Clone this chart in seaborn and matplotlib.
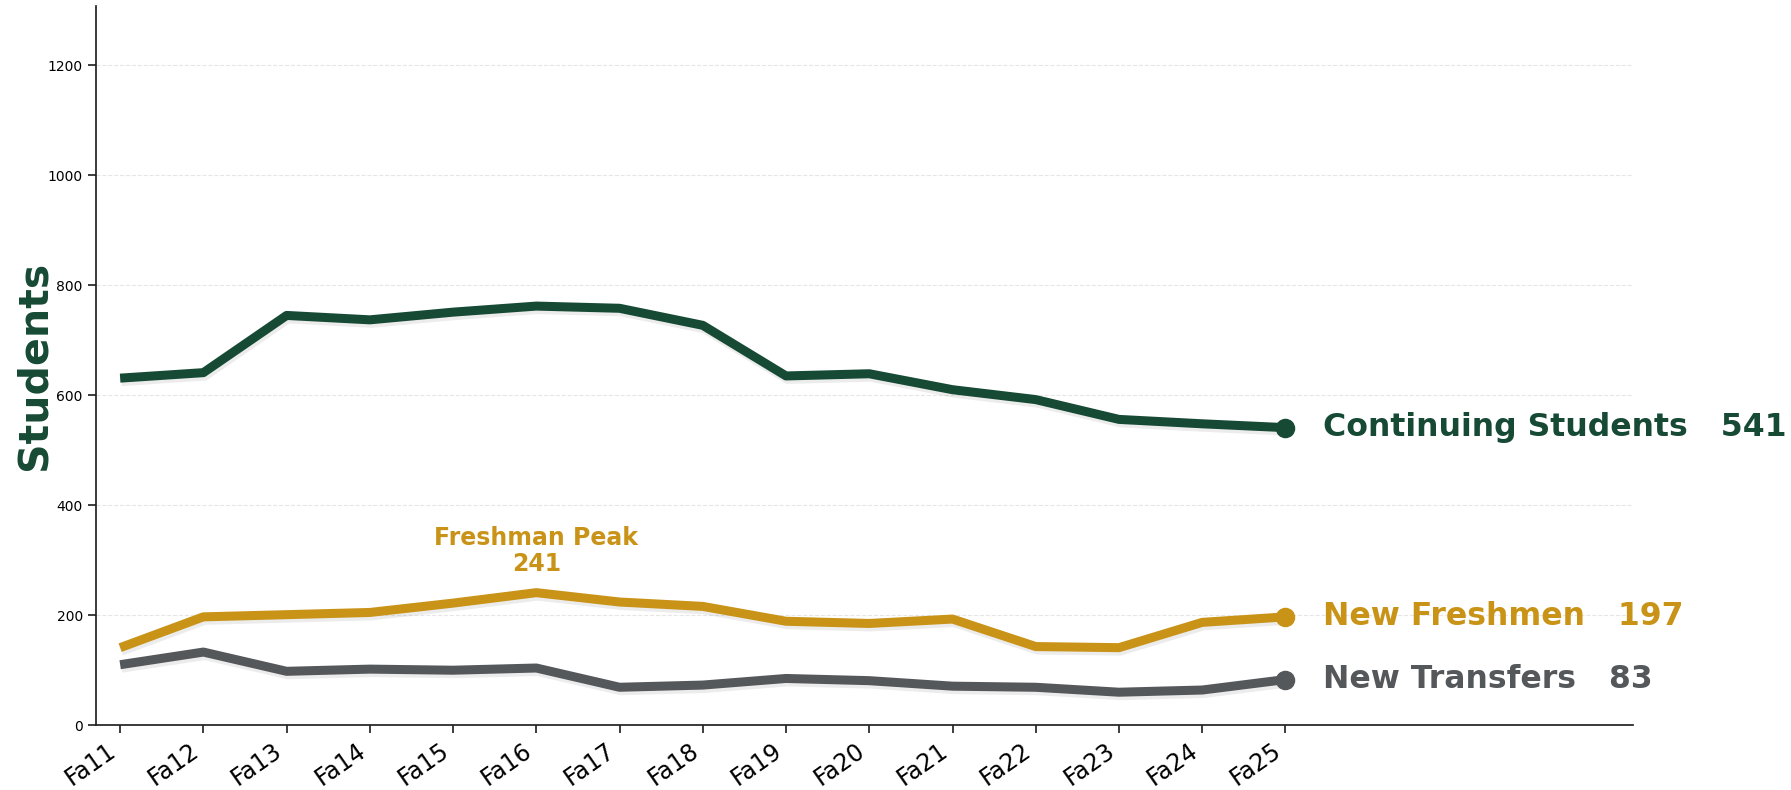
import matplotlib
matplotlib.use("Agg")
import matplotlib.pyplot as plt
import matplotlib.patheffects as pe
import seaborn as sns
import pandas as pd
import numpy as np

terms = ["Fa11", "Fa12", "Fa13", "Fa14", "Fa15", "Fa16", "Fa17", "Fa18",
         "Fa19", "Fa20", "Fa21", "Fa22", "Fa23", "Fa24", "Fa25"]
continuing = [631, 641, 745, 737, 751, 762, 758, 727, 635, 639, 610, 592, 556, 548, 541]
freshmen = [141, 197, 201, 205, 222, 241, 224, 216, 189, 185, 193, 143, 141, 187, 197]
transfers = [110, 133, 98, 102, 100, 104, 69, 73, 85, 81, 71, 69, 60, 64, 83]

series_names = ["Continuing Students", "New Freshmen", "New Transfers"]
series_values = [continuing, freshmen, transfers]
colors = ["#174A35", "#C99317", "#55585B"]

sns.set_theme(style="ticks")
plt.rcParams["font.family"] = ["DejaVu Sans"]

fig = plt.figure(figsize=(17.91, 7.90), dpi=100)
ax = fig.add_axes([0.0536, 0.082, 0.912 - 0.0536, 0.992 - 0.082])

x_pos = np.arange(len(terms))
for name, vals, col in zip(series_names, series_values, colors):
    df = pd.DataFrame({"x": x_pos, "y": vals})
    sns.lineplot(data=df, x="x", y="y", ax=ax, color=col, linewidth=6.5,
                 solid_capstyle="butt", zorder=3)
    line = ax.lines[-1]
    line.set_path_effects([
        pe.SimpleLineShadow(offset=(1.0, -2.5), shadow_color="gray", alpha=0.15),
        pe.Normal(),
    ])
    ax.scatter([x_pos[-1]], [vals[-1]], s=170, color=col, zorder=4)
    ax.text(x_pos[-1] + 0.45, vals[-1], f"{name}   {vals[-1]}", color=col,
            fontsize=22.7, fontweight="bold", ha="left", va="center")

peak_idx = int(np.argmax(freshmen))
ax.annotate(f"Freshman Peak\n{freshmen[peak_idx]}",
            xy=(x_pos[peak_idx], freshmen[peak_idx]),
            xytext=(0, 12), textcoords="offset points",
            ha="center", va="bottom", fontsize=17, fontweight="bold",
            color=colors[1], linespacing=1.1)

ax.set_xlim(-0.29, 18.18)
ax.set_ylim(0, 1307)
ax.set_yticks([0, 200, 400, 600, 800, 1000, 1200])
ax.set_xticks(x_pos)
ax.set_xticklabels(terms, rotation=35, ha="right", fontsize=17, color="black")
ax.tick_params(axis="y", labelsize=10, labelcolor="black")
ax.set_xlabel("")
ax.set_ylabel("Students", fontsize=29.5, fontweight="bold", color=colors[0], labelpad=-5)
ax.yaxis.grid(True, linestyle="--", color="#e6e6e6", linewidth=0.8)
ax.set_axisbelow(True)
sns.despine(ax=ax)
for s in ["left", "bottom"]:
    ax.spines[s].set_color("#222222")

fig.savefig("out.png", dpi=100)
